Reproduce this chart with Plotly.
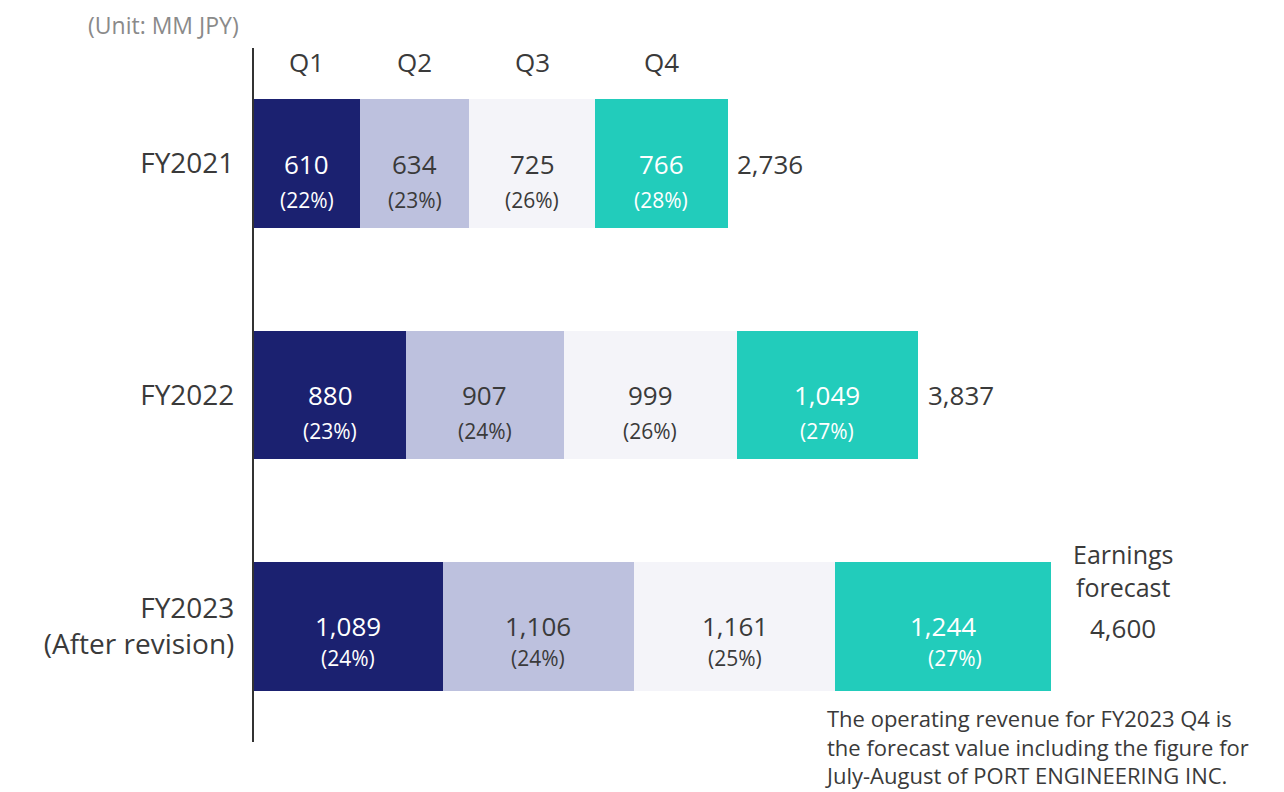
import plotly.graph_objects as go

categories = ["FY2021", "FY2022", "FY2023<br>(After revision)"]
quarters = ["Q1", "Q2", "Q3", "Q4"]
q1 = [610, 880, 1089]
q2 = [634, 907, 1106]
q3 = [725, 999, 1161]
q4 = [766, 1049, 1244]
pct1 = ["22%", "23%", "24%"]
pct2 = ["23%", "24%", "24%"]
pct3 = ["26%", "26%", "25%"]
pct4 = ["28%", "27%", "27%"]
totals = [2736, 3837, 4600]
total_labels = ["2,736", "3,837", "4,600"]

series = [q1, q2, q3, q4]
pcts = [pct1, pct2, pct3, pct4]
colors = ["#1b2170", "#bdc1de", "#f4f4f9", "#22ccbb"]
text_colors = ["#ffffff", "#3a3a3a", "#3a3a3a", "#ffffff"]

FONT = "Open Sans"
DARK = "#3a3a3a"
ypos = [0, 1, 2]

fig = go.Figure()
for qi, q in enumerate(quarters):
    fig.add_trace(go.Bar(
        y=ypos, x=series[qi], orientation="h", name=q,
        marker=dict(color=colors[qi], line=dict(width=0)),
        width=0.557, hoverinfo="skip",
    ))

annotations = []
for qi in range(4):
    for ri in range(3):
        start = sum(series[k][ri] for k in range(qi))
        mid = start + series[qi][ri] / 2
        annotations.append(dict(
            x=mid, y=ypos[ri], xref="x", yref="y", showarrow=False,
            text=f"{series[qi][ri]:,}", font=dict(family=FONT, size=26, color=text_colors[qi]),
            xanchor="center", yanchor="middle", yshift=0,
        ))
        annotations.append(dict(
            x=mid, y=ypos[ri], xref="x", yref="y", showarrow=False,
            text=f"({pcts[qi][ri]})", font=dict(family=FONT, size=21, color=text_colors[qi]),
            xanchor="center", yanchor="middle", yshift=-36 if ri < 2 else -32,
            xshift=12 if (qi == 3 and ri == 2) else 0,
        ))

for qi, q in enumerate(quarters):
    start = sum(series[k][0] for k in range(qi))
    mid = start + series[qi][0] / 2
    annotations.append(dict(
        x=mid, y=0.98, xref="x", yref="paper", showarrow=False, text=q,
        font=dict(family=FONT, size=26, color=DARK), xanchor="center", yanchor="middle",
    ))

for ri in range(2):
    annotations.append(dict(
        x=totals[ri], y=ypos[ri], xref="x", yref="y", showarrow=False,
        text=total_labels[ri], font=dict(family=FONT, size=26, color=DARK),
        xanchor="left", yanchor="middle", xshift=7,
    ))
annotations.append(dict(
    x=totals[2], y=ypos[2], xref="x", yref="y", showarrow=False,
    text=total_labels[2], font=dict(family=FONT, size=26, color=DARK),
    xanchor="center", yanchor="middle", xshift=72, yshift=-2,
))
annotations.append(dict(
    x=totals[2], y=ypos[2], xref="x", yref="y", showarrow=False,
    text="Earnings<br>forecast", font=dict(family=FONT, size=25, color=DARK),
    xanchor="center", yanchor="middle", xshift=72, yshift=56,
))

annotations.append(dict(
    x=-0.163, y=1.033, xref="paper", yref="paper", showarrow=False,
    text="(Unit: MM JPY)", font=dict(family=FONT, size=23, color="#8a8a8a"),
    xanchor="left", yanchor="middle", borderpad=0,
))
annotations.append(dict(
    x=0.5577, y=-0.0058, xref="paper", yref="paper", showarrow=False, align="left",
    text="The operating revenue for FY2023 Q4 is<br>the forecast value including the figure for<br>July-August of PORT ENGINEERING INC.",
    font=dict(family=FONT, size=22, color=DARK), xanchor="left", yanchor="middle", borderpad=0,
))

fig.update_layout(
    barmode="stack", width=1276, height=784,
    margin=dict(l=246, r=8, t=40, b=50),
    paper_bgcolor="white", plot_bgcolor="white",
    showlegend=False, annotations=annotations,
    font=dict(family=FONT, color=DARK),
)
fig.update_xaxes(range=[0, 5900], showgrid=False, zeroline=False, showline=False,
                 showticklabels=False, ticks="")
fig.update_yaxes(range=[2.5, -0.5], tickvals=ypos, ticktext=categories,
                 showgrid=False, zeroline=False, showline=True, linecolor="#333333",
                 linewidth=2, ticks="", ticklabelstandoff=12,
                 tickfont=dict(family=FONT, size=28, color=DARK))

fig.write_html("out.html")
